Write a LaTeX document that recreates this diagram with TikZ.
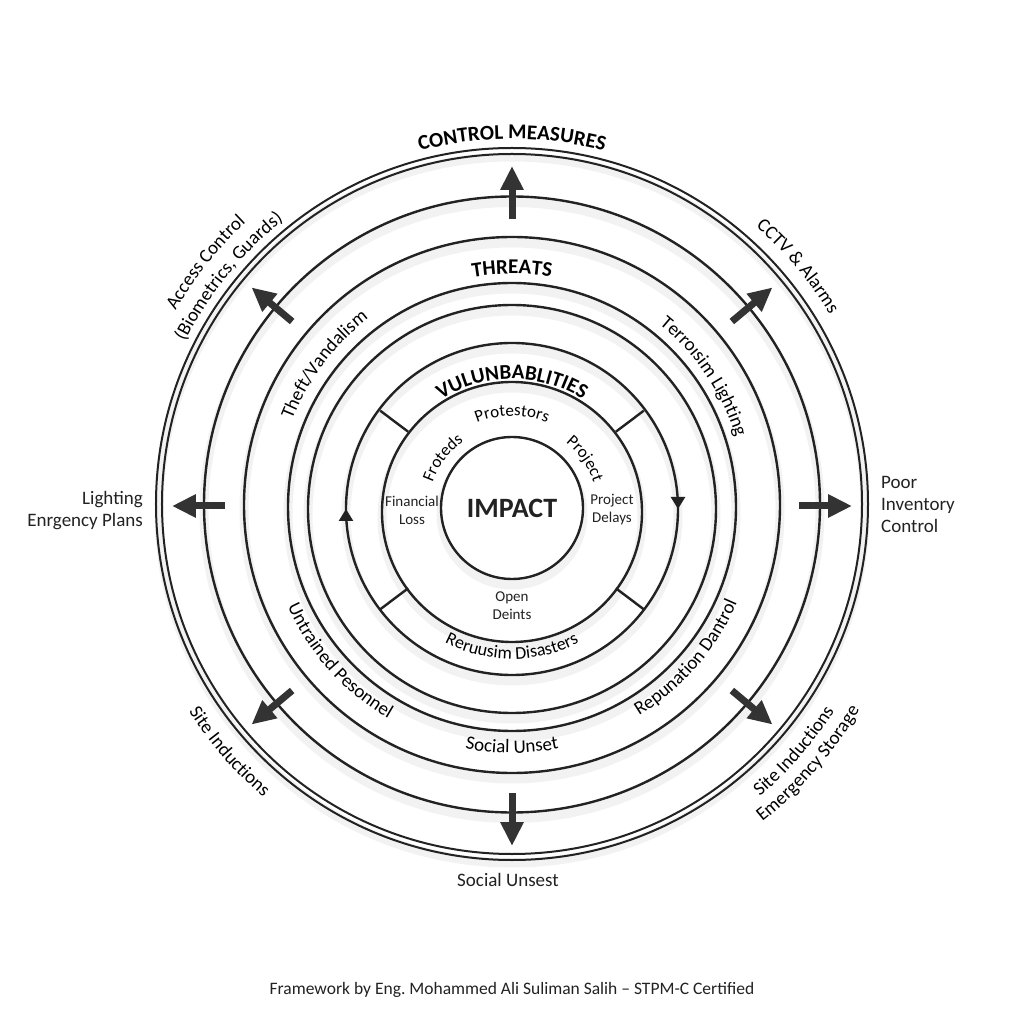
\documentclass[tikz,border=0pt]{standalone}
\usepackage{fontspec}
\setmainfont{Carlito}
\usetikzlibrary{arrows.meta,decorations.text,decorations.markings}

\definecolor{ink}{HTML}{222222}
\definecolor{arrowgray}{HTML}{333333}
\newcommand\lblfont{\fontsize{19}{22}\selectfont}
\newcommand\innerfont{\fontsize{15}{18}\selectfont}
\newcommand\ringfont{\fontsize{17}{20}\selectfont}
\newcommand\headfont{\fontsize{21}{24}\selectfont\bfseries}

\tikzset{
  ring/.style={draw=ink, line width=2.4pt},
  thinring/.style={draw=ink, line width=2pt},
  ringshadow/.style={draw=black, opacity=0.05, line width=9pt},
  ctrlarrow/.style={draw=arrowgray, line width=7pt, -{Triangle[length=24pt,width=22pt]}},
  arclabel/.style={decorate, decoration={text along path, text align=center, text={#1}}},
  plainlbl/.style={font=\lblfont, text=ink, inner sep=0pt, align=#1},
}

\begin{document}
\frenchspacing
\begin{tikzpicture}[x=1pt,y=1pt]
\useasboundingbox (-512,-518) rectangle (512,506);
\fill[white] (-512,-518) rectangle (512,506);

% soft shadows under the rings
\foreach \r/\dy in {353/2,308/1.5,268/1,224/-1,204/-3,166/-3,130/-6,71/-2} {
  \draw[ringshadow] (0,\dy-6) circle (\r);
}

% concentric rings (radius / vertical offset of centre)
\draw[thinring] (0,2) circle (356);
\draw[thinring] (0,2) circle (350);
\foreach \r/\dy in {308/1.5,268/1,224/-1,204/-3,130/-6} {
  \draw[ring] (0,\dy) circle (\r);
}
% ring with the turning arrowheads
\draw[ring, postaction={decorate}, decoration={markings,
    mark=at position 0.25 with {\arrow{Triangle[length=12pt,width=14pt]}},
    mark=at position 0.75 with {\arrow{Triangle[length=12pt,width=14pt]}}}]
  (0,163) arc[start angle=90, end angle=-270, radius=166];
\fill[white] (0,-2) circle (69.8);
\draw[ring] (0,-2) circle (71);

% dividers of the vulnerabilities ring
\begin{scope}[yshift=-4pt]
\foreach \a in {37,143,217,323} {
  \draw[ring] (\a:130) -- (\a:165);
}
\end{scope}

% control measure arrows
\foreach \a in {0,40,90,140,180,220,270,320} {
  \coordinate (tail\a) at (\a:287);
  \coordinate (head\a) at (\a:340);
  \draw[ctrlarrow] (tail\a) -- (head\a);
}

% outer labels
\path[arclabel={|\headfont|CONTROL MEASURES}] (130:367) arc[start angle=130, end angle=50, radius=367];
\path[arclabel={|\lblfont|Access Control}] (171.5:389) arc[start angle=171.5, end angle=111.5, radius=389];
\path[arclabel={|\lblfont|(Biometrics, Guards)}] (171:366) arc[start angle=171, end angle=111, radius=366];
\path[arclabel={|\lblfont|CCTV {\&} Alarms}] (70:371) arc[start angle=70, end angle=10, radius=371];
\path[arclabel={|\lblfont|Site Inductions}] (191:383) arc[start angle=191, end angle=251, radius=383];
\path[arclabel={|\lblfont|Site Inductions}] (-71:382) arc[start angle=-71, end angle=-11, radius=382];
\path[arclabel={|\lblfont|Emergency Storage}] (-71:403) arc[start angle=-71, end angle=-11, radius=403];

\node[plainlbl=right, anchor=east] (lighting) at (-369,-5) {Lighting\\Enrgency Plans};
\node[plainlbl=left, anchor=west] (inventory) at (369,2) {Poor\\Inventory\\Control};
\node[plainlbl=center] (unsest) at (-4,-374) {Social Unsest};

% threats ring
\path[arclabel={|\headfont|THREATS}] (120:232) arc[start angle=120, end angle=60, radius=232];
\path[arclabel={|\lblfont|Theft/Vandalism}] (173:236) arc[start angle=173, end angle=113, radius=236];
\path[arclabel={|\lblfont|Terroısim Lighting}] (64:234) arc[start angle=64, end angle=4, radius=234];
\path[arclabel={|\lblfont|Untrained Pesonnel}] (192:246) arc[start angle=192, end angle=252, radius=246];
\path[arclabel={|\lblfont|Repunation Dantrol}] (-71:245) arc[start angle=-71, end angle=-11, radius=245];
\path[arclabel={|\lblfont|Social Unset}] (240:247) arc[start angle=240, end angle=300, radius=247];

% vulnerabilities ring
\begin{scope}[yshift=-6pt]
\path[arclabel={|\headfont|VULUNBABLITIES}] (130:133) arc[start angle=130, end angle=50, radius=133];
\path[arclabel={|\fontsize{18}{21}\selectfont|Reruusim Disasters}] (220:147) arc[start angle=220, end angle=320, radius=147];
\end{scope}

% impact ring
\begin{scope}[yshift=-4pt]
\path[arclabel={|\ringfont|Protestors}] (130:94) arc[start angle=130, end angle=50, radius=94];
\path[arclabel={|\ringfont|Froteds}] (183:84) arc[start angle=183, end angle=103, radius=84];
\path[arclabel={|\ringfont|Project}] (75:86) arc[start angle=75, end angle=-5, radius=86];
\end{scope}
\node[font=\innerfont, text=ink, align=center, inner sep=0pt] (finloss) at (-100,-4) {Financial\\Loss};
\node[font=\innerfont, text=ink, align=center, inner sep=0pt] (delays) at (100,-4) {Project\\Delays};
\node[font=\innerfont, text=ink, align=center, inner sep=0pt] (open) at (0,-100) {Open\\Deints};
\node[font=\fontsize{28}{32}\selectfont\bfseries, text=ink, inner sep=0pt] (impact) at (0,-2) {IMPACT};

% footer
\node[font=\fontsize{17.5}{20}\selectfont, text=ink, inner sep=0pt] (footer) at (0,-484)
  {Framework by Eng. Mohammed Ali Suliman Salih – STPM-C Certified};
\end{tikzpicture}
\end{document}
